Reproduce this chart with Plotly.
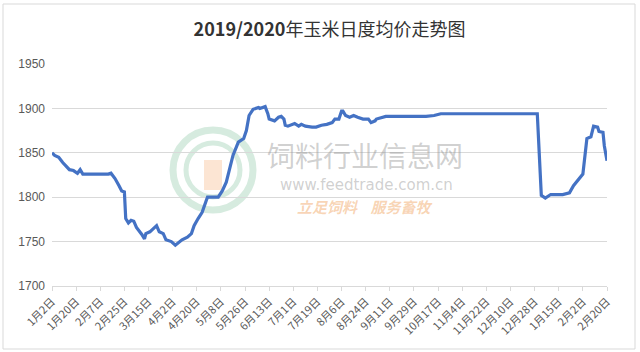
import plotly.graph_objects as go
import pandas as pd

dates = [
    "2019-01-02", "2019-01-04", "2019-01-07", "2019-01-10", "2019-01-15", "2019-01-18",
    "2019-01-21", "2019-01-23", "2019-01-25", "2019-02-13", "2019-02-15", "2019-02-18",
    "2019-02-21", "2019-02-23", "2019-02-25", "2019-02-26", "2019-02-28", "2019-03-02",
    "2019-03-04", "2019-03-06", "2019-03-10", "2019-03-12", "2019-03-13", "2019-03-16",
    "2019-03-21", "2019-03-23", "2019-03-26", "2019-03-28", "2019-04-01", "2019-04-04",
    "2019-04-09", "2019-04-13", "2019-04-16", "2019-04-18", "2019-04-21", "2019-04-24",
    "2019-04-27", "2019-04-28", "2019-05-06", "2019-05-09", "2019-05-12", "2019-05-15",
    "2019-05-17", "2019-05-21", "2019-05-25", "2019-05-27", "2019-05-29", "2019-06-01",
    "2019-06-05", "2019-06-06", "2019-06-08", "2019-06-10", "2019-06-12", "2019-06-13",
    "2019-06-17", "2019-06-20", "2019-06-22", "2019-06-24", "2019-06-25", "2019-06-27",
    "2019-07-02", "2019-07-05", "2019-07-07", "2019-07-10", "2019-07-15", "2019-07-18",
    "2019-07-22", "2019-07-26", "2019-07-30", "2019-08-01", "2019-08-04", "2019-08-06",
    "2019-08-07", "2019-08-09", "2019-08-12", "2019-08-15", "2019-08-18", "2019-08-22",
    "2019-08-26", "2019-08-28", "2019-08-31", "2019-09-01", "2019-09-08", "2019-10-08",
    "2019-10-14", "2019-10-19", "2019-12-30", "2020-01-02", "2020-01-05", "2020-01-09",
    "2020-01-15", "2020-01-18", "2020-01-23", "2020-01-26", "2020-02-02", "2020-02-04",
    "2020-02-05", "2020-02-08", "2020-02-10", "2020-02-13", "2020-02-14", "2020-02-17",
    "2020-02-18", "2020-02-20",
]
prices = [
    1850, 1847, 1845, 1839, 1831, 1830,
    1827, 1831, 1826, 1826, 1827, 1821,
    1813, 1807, 1806, 1776, 1771, 1774,
    1773, 1766, 1758, 1753, 1759, 1761,
    1768, 1761, 1759, 1752, 1750, 1746,
    1752, 1755, 1759, 1768, 1776, 1783,
    1796, 1800, 1800, 1807, 1817, 1836,
    1847, 1862, 1866, 1875, 1892, 1899,
    1901, 1900, 1901, 1902, 1894, 1888,
    1886, 1890, 1891, 1888, 1881, 1880,
    1883, 1880, 1882, 1880, 1879, 1879,
    1881, 1882, 1884, 1888, 1888, 1897,
    1897, 1892, 1890, 1892, 1890, 1888,
    1888, 1884, 1886, 1888, 1891, 1891,
    1892, 1894, 1894, 1802, 1799, 1803,
    1803, 1803, 1805, 1813, 1826, 1852,
    1866, 1868, 1880, 1879, 1874, 1873,
    1858, 1841,
]
tick_labels = [
    "1月2日", "1月20日", "2月7日", "2月25日", "3月15日", "4月2日", "4月20日", "5月8日",
    "5月26日", "6月13日", "7月1日", "7月19日", "8月6日", "8月24日", "9月11日", "9月29日",
    "10月17日", "11月4日", "11月22日", "12月10日", "12月28日", "1月15日", "2月2日", "2月20日",
]
y_ticks = [1700, 1750, 1800, 1850, 1900, 1950]
title_text = "<b>2019/2020</b>年玉米日度均价走势图"

tick_dates = pd.date_range("2019-01-02", periods=len(tick_labels), freq="18D")

W, H = 640, 352
L, R, T, B = 52, 33, 64, 66
pw, ph = W - L - R, H - T - B

def px(x):
    return (x - L) / pw

def py(y):
    return (H - B - y) / ph

fig = go.Figure()
fig.add_trace(go.Scatter(
    x=dates, y=prices, mode="lines",
    line=dict(color="#4472C4", width=3.2),
    hoverinfo="skip", showlegend=False,
))

shapes = []
# outer chart border
shapes.append(dict(type="rect", xref="paper", yref="paper",
                   x0=px(3), x1=px(635), y0=py(349), y1=py(4),
                   line=dict(color="#D9D9D9", width=1), layer="below"))
# watermark logo rings
for r, w in [(40, 7), (27, 5)]:
    shapes.append(dict(type="circle", xref="paper", yref="paper",
                       x0=px(213 - r), x1=px(213 + r), y0=py(170 + r), y1=py(170 - r),
                       line=dict(color="rgba(120,190,150,0.3)", width=w), layer="below"))
shapes.append(dict(type="rect", xref="paper", yref="paper",
                   x0=px(204), x1=px(222), y0=py(190), y1=py(160),
                   fillcolor="rgba(245,170,110,0.3)", line=dict(width=0), layer="below"))

annotations = [
    dict(text="饲料行业信息网", x=px(365), y=py(155), xref="paper", yref="paper",
         showarrow=False, font=dict(size=28, color="rgba(150,150,150,0.45)",
                                    family="Noto Sans CJK SC"), xanchor="center", yanchor="middle"),
    dict(text="www.feedtrade.com.cn", x=px(366), y=py(185), xref="paper", yref="paper",
         showarrow=False, font=dict(size=15, color="rgba(150,150,150,0.45)",
                                    family="DejaVu Sans"), xanchor="center", yanchor="middle"),
    dict(text="<b><i>立足饲料    服务畜牧</i></b>", x=px(365), y=py(206), xref="paper", yref="paper",
         showarrow=False, font=dict(size=15, color="rgba(240,160,90,0.45)",
                                    family="Noto Sans CJK SC"), xanchor="center", yanchor="middle"),
]

fig.update_layout(
    width=W, height=H,
    margin=dict(l=L, r=R, t=T, b=B),
    paper_bgcolor="white", plot_bgcolor="white",
    title=dict(text=title_text, x=0.5, xref="paper", xanchor="center", y=1 - 30 / H, yanchor="middle",
               font=dict(size=18, color="#333333", family="Noto Sans CJK SC")),
    xaxis=dict(
        type="date", range=[dates[0], dates[-1]],
        tickvals=list(tick_dates), ticktext=tick_labels, tickangle=-45,
        tickfont=dict(size=11, color="#595959", family="Noto Sans CJK SC"),
        showgrid=False, showline=True, linecolor="#D9D9D9", linewidth=1,
        ticks="outside", ticklen=4, tickcolor="#D9D9D9", zeroline=False,
    ),
    yaxis=dict(
        range=[1700, 1950], tickvals=y_ticks,
        tickfont=dict(size=12, color="#595959", family="Liberation Sans"),
        showgrid=True, gridcolor="#D9D9D9", gridwidth=1,
        zeroline=False, showline=False, ticks="", ticklabelstandoff=6,
    ),
    shapes=shapes,
    annotations=annotations,
)

fig.write_html("out.html")
